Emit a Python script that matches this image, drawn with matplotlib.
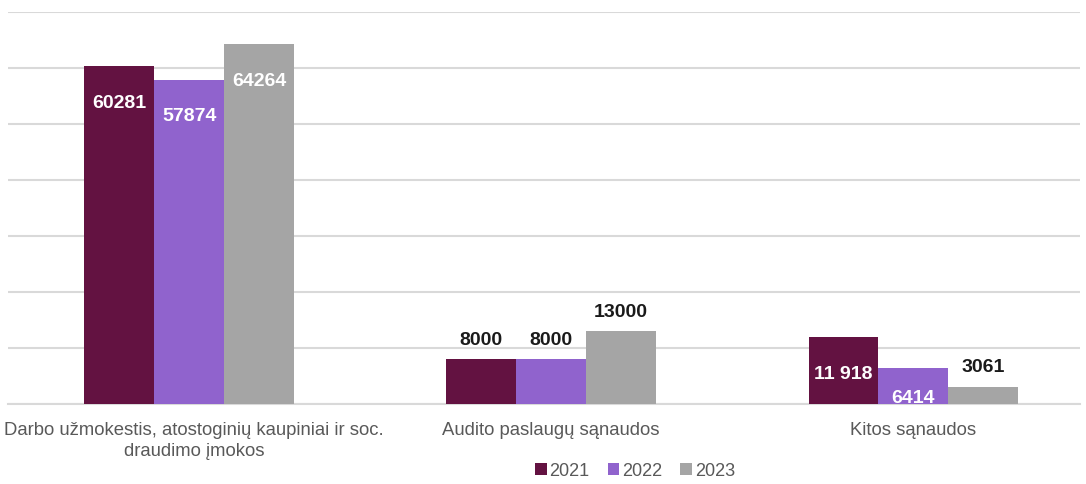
import numpy as np
import matplotlib.pyplot as plt

categories = ['Darbo užmokestis, atostoginių kaupiniai ir soc.\ndraudimo įmokos',
              'Audito paslaugų sąnaudos',
              'Kitos sąnaudos']
years = ['2021', '2022', '2023']
v2021 = [60281, 8000, 11918]
v2022 = [57874, 8000, 6414]
v2023 = [64264, 13000, 3061]
labels2021 = ['60281', '8000', '11 918']
labels2022 = ['57874', '8000', '6414']
labels2023 = ['64264', '13000', '3061']
# where the value label sits: inside the bar or above it
place2021 = ['in', 'out', 'in']
place2022 = ['in', 'out', 'in']
place2023 = ['in', 'out', 'out']

colors = ['#631241', '#9063CD', '#A5A5A5']

plt.rcParams['font.family'] = ['Liberation Sans', 'DejaVu Sans']

fig = plt.figure(figsize=(10.86, 4.84), dpi=100)
ax = fig.add_axes([8/1086, 1 - 404/484, 1072/1086, 392/484])

x = np.arange(len(categories))
w = 0.193
series = [(v2021, labels2021, place2021), (v2022, labels2022, place2022),
          (v2023, labels2023, place2023)]
for i, (vals, labs, places) in enumerate(series):
    bars = ax.bar(x + (i - 1) * w, vals, w, color=colors[i], label=years[i], zorder=3)
    for b, lab, pl in zip(bars, labs, places):
        top = b.get_height()
        cx = b.get_x() + b.get_width() / 2
        if pl == 'in':
            off = -37 if top > 10000 else -30
            col = 'white'
        else:
            off = 19
            col = '#1a1a1a'
        ax.annotate(lab, (cx, top), xytext=(0, off), textcoords='offset pixels',
                    ha='center', va='center', color=col, fontsize=14, fontweight='bold',
                    zorder=4)

ax.set_xlim(-0.5, 2.46)
ax.set_ylim(0, 70000)
ax.set_yticks(np.arange(0, 70001, 10000))
ax.yaxis.grid(True, color='#D9D9D9', linewidth=1.5, zorder=0)
ax.tick_params(axis='y', left=False, labelleft=False)
ax.set_xticks([])
for s in ['top', 'right', 'left']:
    ax.spines[s].set_visible(False)
ax.spines['bottom'].set_color('#D9D9D9')
ax.spines['bottom'].set_linewidth(1.5)

# category labels under the groups (first one nudged right so it stays inside)
for xi, cat in zip(x, categories):
    dx = 5 if xi == 0 else 0
    ax.annotate(cat, (xi, 0), xytext=(dx, -18), textcoords='offset pixels',
                ha='center', va='top', fontsize=13.3, color='#595959',
                linespacing=1.3, annotation_clip=False)

fig.legend(loc='center', bbox_to_anchor=(635/1086, 1 - 471/484), ncol=3, frameon=False,
           fontsize=13, labelcolor='#595959', handlelength=0.65, handleheight=0.65,
           handletextpad=0.15, columnspacing=1.0)

fig.savefig('out.png', dpi=100)
